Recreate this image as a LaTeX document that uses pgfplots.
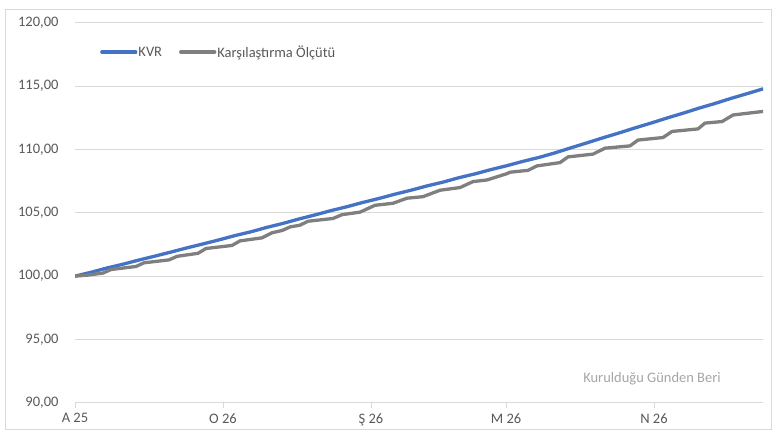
\documentclass[border=0pt]{standalone}
\usepackage{fontspec}
\setmainfont{Carlito}
\usepackage{pgfplots}
\pgfplotsset{compat=1.18}
\definecolor{kvr}{HTML}{4472C4}
\definecolor{bench}{HTML}{7F7F7F}
\definecolor{gridc}{HTML}{D9D9D9}
\definecolor{txt}{HTML}{595959}
\definecolor{note}{HTML}{A6A6A6}
\begin{document}
\begin{tikzpicture}[x=1bp,y=1bp]
\useasboundingbox (0,0) rectangle (772,430);
\draw[gridc, line width=0.75bp] (5.5,0.5) rectangle (771.5,421);
\begin{pgfinterruptboundingbox}
\begin{axis}[
  at={(75,21.5)}, anchor=south west,
  width=688bp, height=380bp, scale only axis,
  xmin=0, xmax=688, ymin=90, ymax=120,
  axis line style={draw=none},
  ymajorgrids, grid style={gridc, line width=0.75bp},
  ytick={90,95,...,120},
  xtick={0,148,296,431,579},
  xticklabels={A 25,O 26,Ş 26,M 26,N 26},
  tick align=outside, xtick pos=left,
  major tick length=5bp,
  xtick style={gridc, line width=0.75bp},
  ytick style={draw=none},
  ticklabel style={font=\fontsize{14.5bp}{17bp}\selectfont, text=txt},
  /pgf/number format/assume math mode=true,
  y tick label style={/pgf/number format/.cd, fixed, fixed zerofill, precision=2, use comma, 1000 sep={}, /tikz/.cd, xshift=-8bp},
  x tick label style={yshift=-2bp},
  legend style={draw=none, fill=none, at={(0.0363,0.9228)}, anchor=west, inner sep=0pt,
    legend columns=2, font=\fontsize{14.5bp}{17bp}\selectfont, text=txt,
    nodes={inner xsep=1bp, inner ysep=1bp}},
  legend image code/.code={\draw[#1] (0bp,0bp) -- (34bp,0bp);},
]
\addplot[kvr, line width=3.3bp, line join=round, line cap=round] coordinates {
(0,100.00) (16,100.30) (32,100.64) (48,100.94) (64,101.27) (80,101.58) (96,101.90)
(112,102.23) (128,102.54) (144,102.86) (160,103.20) (176,103.50) (192,103.85)
(208,104.16) (224,104.51) (240,104.83) (256,105.17) (272,105.48) (288,105.82)
(304,106.13) (320,106.47) (336,106.78) (352,107.12) (368,107.42) (384,107.77)
(400,108.07) (416,108.41) (432,108.72) (448,109.06) (465,109.39) (480,109.73)
(496,110.13) (512,110.52) (528,110.92) (544,111.30) (560,111.70) (576,112.08)
(592,112.48) (608,112.86) (624,113.26) (640,113.63) (656,114.03) (672,114.40) (688,114.78)
};
\addlegendentry{KVR\hspace*{16bp}}
\addplot[bench, line width=3.3bp, line join=round, line cap=round] coordinates {
(0,100.00) (13,100.08) (28,100.24) (36,100.52) (61,100.76) (69,101.05)
(94,101.28) (102,101.56) (123,101.80) (131,102.18) (157,102.42) (165,102.78)
(187,103.02) (197,103.42) (207,103.60) (215,103.88) (225,104.02) (233,104.33)
(258,104.55) (267,104.85) (285,105.05) (300,105.59) (318,105.75) (332,106.15)
(348,106.27) (365,106.78) (385,106.99) (398,107.46) (412,107.59) (432,108.09)
(435,108.20) (453,108.35) (462,108.70) (485,108.96) (493,109.41) (518,109.63)
(530,110.10) (555,110.28) (563,110.74) (588,110.94) (597,111.42) (623,111.62)
(630,112.08) (647,112.20) (658,112.72) (675,112.88) (688,113.00)
};
\addlegendentry{Karşılaştırma Ölçütü}
\node[text=note, font=\fontsize{14.5bp}{17bp}\selectfont] at (axis cs:577,91.93) {Kurulduğu Günden Beri};
\end{axis}
\end{pgfinterruptboundingbox}
\end{tikzpicture}
\end{document}
